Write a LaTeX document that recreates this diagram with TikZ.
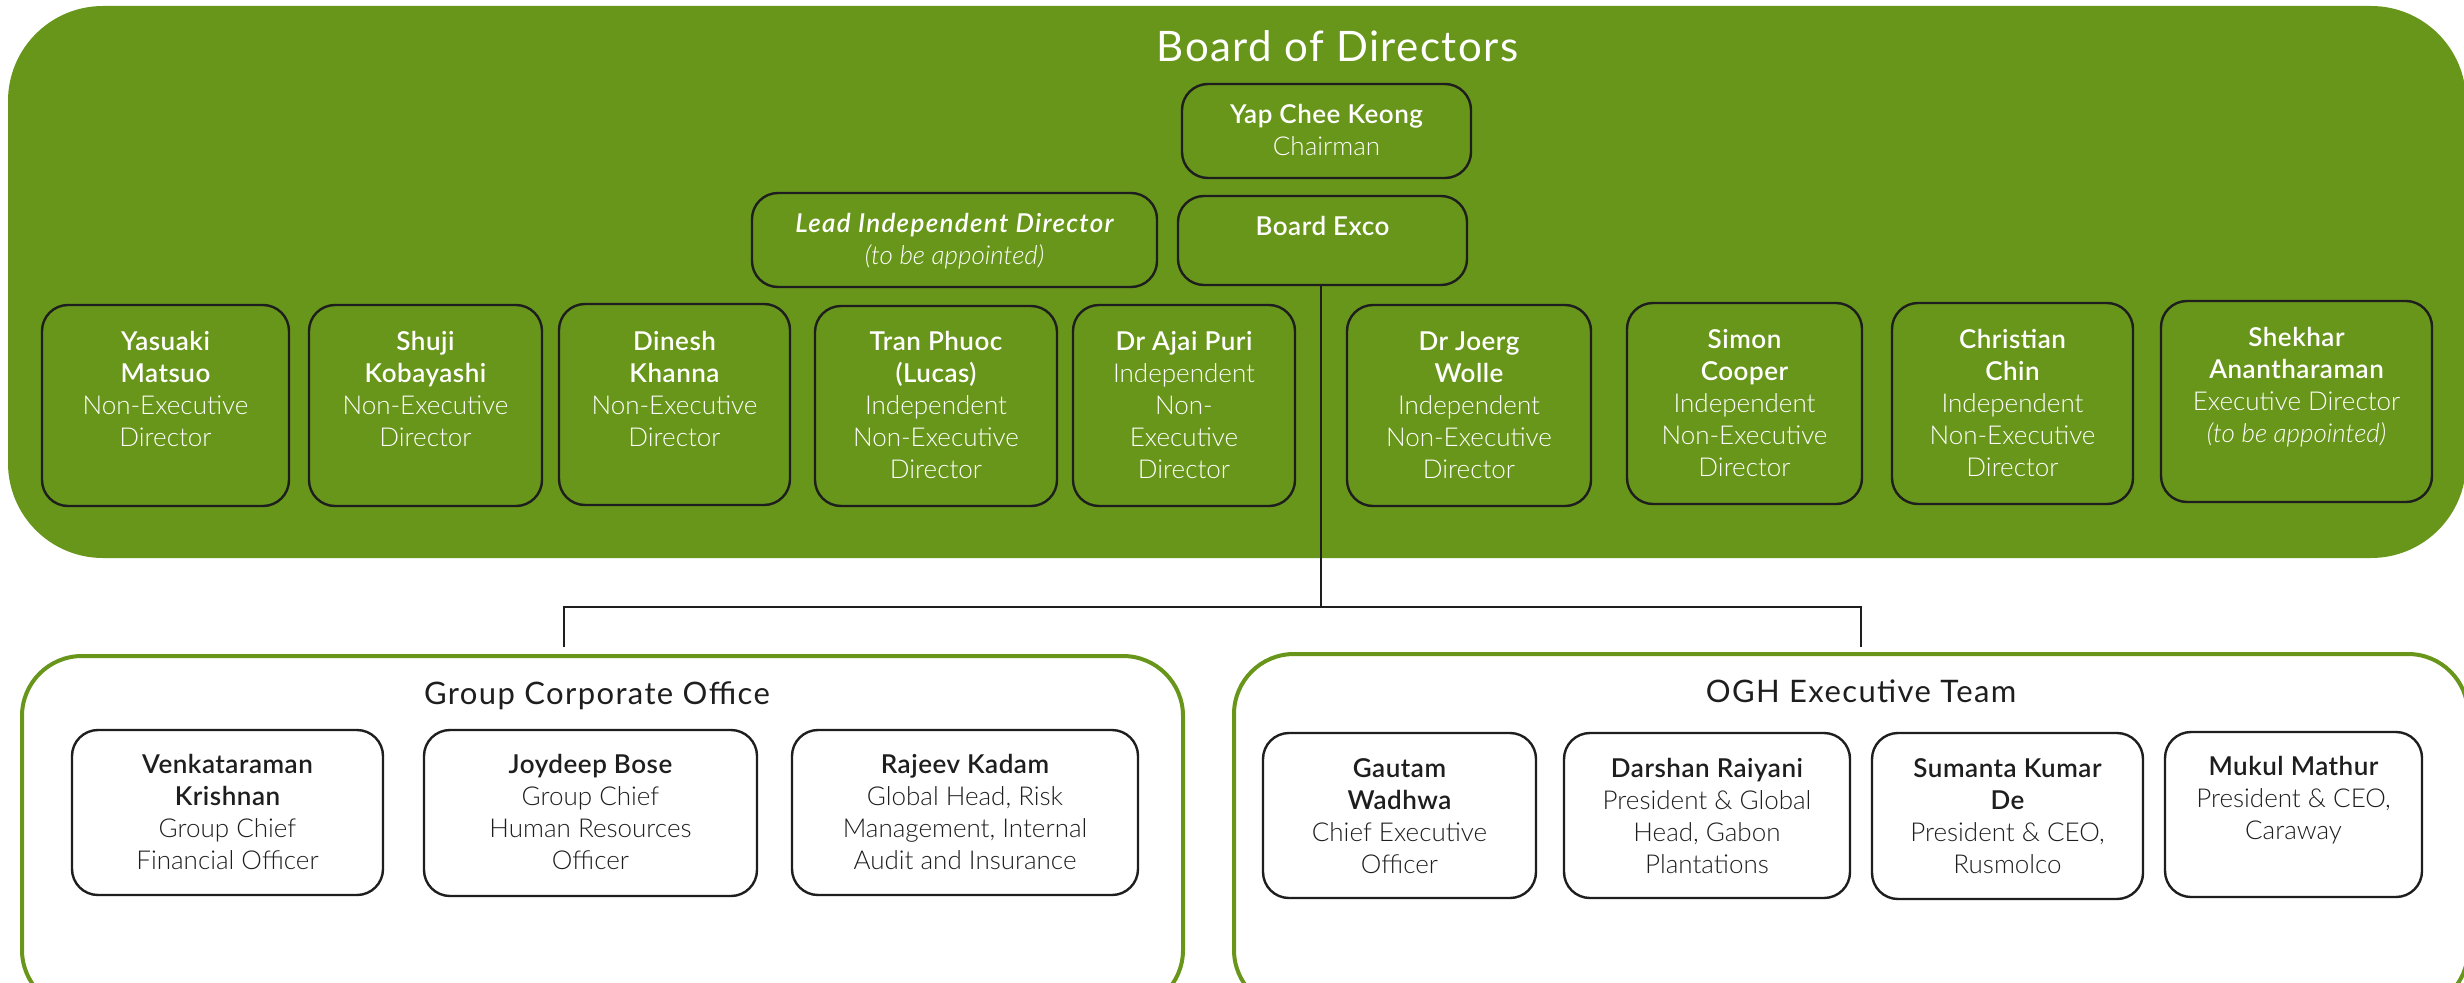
\documentclass[tikz,border=0pt]{standalone}
\usepackage{fontspec}
\setmainfont{Lato}[UprightFont={Lato Light}, BoldFont={Lato Semibold}, ItalicFont={Lato Light Italic}, BoldItalicFont={Lato Semibold Italic}]
\newfontfamily\titlefont{Lato}
\definecolor{boardgreen}{HTML}{68961A}
\definecolor{ink}{HTML}{1E1E1E}
\tikzset{
  board/.style={fill=boardgreen, draw=none, rounded corners=95pt, inner sep=0pt},
  section/.style={fill=white, draw=boardgreen, line width=4pt, rounded corners=60pt, inner sep=0pt},
  gbox/.style={draw=ink, line width=2.4pt, rounded corners=26pt, inner sep=0pt},
  wbox/.style={draw=ink, line width=2.4pt, rounded corners=26pt, fill=white, inner sep=0pt},
  wtxt/.style={text=white, align=center, inner sep=0pt, anchor=north, font=\fontsize{26}{32}\selectfont},
  ktxt/.style={text=ink, align=center, inner sep=0pt, anchor=north, font=\fontsize{26}{32}\selectfont},
  bigtitle/.style={text=white, inner sep=0pt, anchor=base, font=\titlefont\fontsize{42}{50}\selectfont\addfontfeature{LetterSpace=3.5}},
  sectitle/.style={text=ink, inner sep=0pt, anchor=base, font=\titlefont\fontsize{31}{37}\selectfont\addfontfeature{LetterSpace=4.5}},
  link/.style={draw=ink, line width=2pt},
}
\newcommand\nm[1]{{\bfseries\addfontfeature{LetterSpace=2}#1}}
% name, box style, x1, y1, x2, y2, first baseline, text style, text
\newcommand\mkbox[9]{%
  \node[#2, minimum width={(#5-#3)*1pt}, minimum height={(#6-#4)*1pt}] (#1) at ({(#3+#5)/2},{(#4+#6)/2}) {};
  \node[#8] (#1-t) at ({(#3+#5)/2},{#7-22.4}) {\strut #9};
}
\begin{document}
\begin{tikzpicture}[x=1pt,y=-1pt]
\useasboundingbox (0,0) rectangle (2464,982);
\clip (0,0) rectangle (2464,982);

% Board of Directors panel
\node[board, minimum width=2458pt, minimum height=552pt] (bod) at (1237,282) {};
\node[bigtitle] (bodtitle) at (1337.5,62) {Board of Directors};

\mkbox{chair}{gbox}{1182}{84}{1471}{178}{123}{wtxt}{\nm{Yap Chee Keong}\\Chairman}
\mkbox{lead}{gbox}{752}{193}{1157}{287}{232}{wtxt}{{\bfseries\itshape\addfontfeature{LetterSpace=5}Lead Independent Director}\\\textit{(to be appointed)}}
\mkbox{exco}{gbox}{1178}{196}{1467}{285}{235}{wtxt}{\nm{Board Exco}}

\mkbox{d1}{gbox}{42}{305}{289}{506}{350}{wtxt}{\nm{Yasuaki}\\\nm{Matsuo}\\Non-Executive\\Director}
\mkbox{d2}{gbox}{309}{305}{542}{506}{350}{wtxt}{\nm{Shuji}\\\nm{Kobayashi}\\Non-Executive\\Director}
\mkbox{d3}{gbox}{559}{304}{790}{505}{350}{wtxt}{\nm{Dinesh}\\\nm{Khanna}\\Non-Executive\\Director}
\mkbox{d4}{gbox}{815}{306}{1057}{506}{350}{wtxt}{\nm{Tran Phuoc}\\\nm{(Lucas)}\\Independent\\Non-Executive\\Director}
\mkbox{d5}{gbox}{1073}{305}{1295}{506}{350}{wtxt}{\nm{Dr Ajai Puri}\\Independent\\Non-\\Executive\\Director}
\mkbox{d6}{gbox}{1347}{305}{1591}{506}{350}{wtxt}{\nm{Dr Joerg}\\\nm{Wolle}\\Independent\\Non-Executive\\Director}
\mkbox{d7}{gbox}{1627}{303}{1862}{504}{348}{wtxt}{\nm{Simon}\\\nm{Cooper}\\Independent\\Non-Executive\\Director}
\mkbox{d8}{gbox}{1892}{303}{2133}{504}{348}{wtxt}{\nm{Christian}\\\nm{Chin}\\Independent\\Non-Executive\\Director}
\mkbox{d9}{gbox}{2161}{301}{2432}{502}{346}{wtxt}{\nm{Shekhar}\\\nm{Anantharaman}\\Executive Director\\\textit{(to be appointed)}}

% Lower sections
\node[section, minimum width=1161pt, minimum height=354pt] (gco) at (602.5,833) {};
\node[sectitle] (gcotitle) at (597,704) {Group Corporate Office};
\node[section, minimum width=1234pt, minimum height=356pt] (ogh) at (1851,832) {};
\node[sectitle] (oghtitle) at (1861,702) {OGH Executive Team};

\mkbox{g1}{wbox}{72}{730}{383}{895}{773}{ktxt}{\nm{Venkataraman}\\\nm{Krishnan}\\Group Chief\\Financial Officer}
\mkbox{g2}{wbox}{424}{730}{757}{896}{773}{ktxt}{\nm{Joydeep Bose}\\Group Chief\\Human Resources\\Officer}
\mkbox{g3}{wbox}{792}{730}{1138}{895}{773}{ktxt}{\nm{Rajeev Kadam}\\Global Head, Risk\\Management, Internal\\Audit and Insurance}

\mkbox{o1}{wbox}{1263}{733}{1536}{898}{777}{ktxt}{\nm{Gautam}\\\nm{Wadhwa}\\Chief Executive\\Officer}
\mkbox{o2}{wbox}{1564}{733}{1850}{898}{777}{ktxt}{\nm{Darshan Raiyani}\\President \& Global\\Head, Gabon\\Plantations}
\mkbox{o3}{wbox}{1872}{733}{2143}{899}{777}{ktxt}{\nm{Sumanta Kumar}\\\nm{De}\\President \& CEO,\\Rusmolco}
\mkbox{o4}{wbox}{2165}{732}{2422}{897}{775}{ktxt}{\nm{Mukul Mathur}\\President \& CEO,\\Caraway}

% Connectors
\coordinate (junc) at (1321,607);
\coordinate (leftend) at (564,607);
\coordinate (rightend) at (1861,607);
\coordinate (leftdrop) at (564,647);
\coordinate (rightdrop) at (1861,647);
\draw[link] (exco.south -| junc) -- (junc);
\draw[link] (leftdrop) -- (leftend) -- (rightend) -- (rightdrop);
\end{tikzpicture}
\end{document}
